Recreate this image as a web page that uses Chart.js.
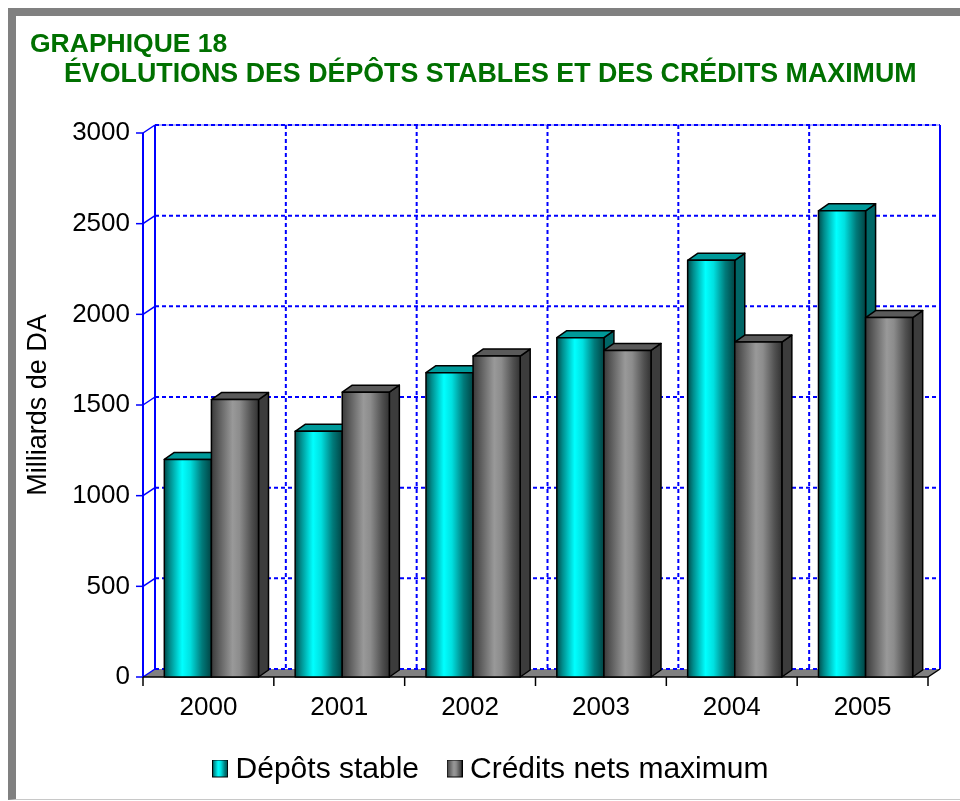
<!DOCTYPE html>
<html>
<head>
<meta charset="utf-8">
<script src="https://cdn.jsdelivr.net/npm/chart.js@4.4.1/dist/chart.umd.min.js"></script>
<style>
  html, body { margin: 0; padding: 0; background: #fff; }
  #wrap { position: relative; width: 960px; height: 801px; overflow: hidden; }
  #frame { position: absolute; left: 8px; top: 8px; right: 0; bottom: 1px;
           border-top: 8px solid #808080; border-left: 8px solid #808080;
           border-bottom: 1px solid #c8c8c8; box-sizing: border-box; }
  .ttl { position: absolute; font-family: "Liberation Sans", Arial, sans-serif;
         font-weight: bold; color: #007000; font-size: 26.5px; white-space: nowrap; }
  canvas { position: absolute; left: 0; top: 0; }
</style>
</head>
<body>
<div id="wrap">
  <canvas id="chart" width="960" height="801"></canvas>
  <div id="frame"></div>
  <div class="ttl" style="left:30px; top:28px;">GRAPHIQUE 18</div>
  <div class="ttl" style="left:64px; top:58px; font-size:26.8px;">ÉVOLUTIONS DES DÉPÔTS STABLES ET DES CRÉDITS MAXIMUM</div>
</div>
<script>
// data (milliards de DA)
const years = ['2000', '2001', '2002', '2003', '2004', '2005'];
const depotsStables = [1200, 1355, 1678, 1871, 2298, 2571];
const creditsNets = [1530, 1571, 1770, 1801, 1847, 1982];
const yTicks = [0, 500, 1000, 1500, 2000, 2500, 3000];

// depth of the back wall and of the bars
const DX = 12, DY = -8;
const BX = 10, BY = -7;

const cyanStops = [[0, '#004c4c'], [0.12, '#008c8c'], [0.38, '#00ffff'], [0.55, '#00e0e0'], [0.8, '#007a7a'], [1, '#004444']];
const grayStops = [[0, '#3a3a3a'], [0.15, '#5a5a5a'], [0.45, '#999999'], [0.6, '#8c8c8c'], [0.85, '#505050'], [1, '#333333']];
const tops = ['#009a9a', '#5a5a5a'];
const sides = ['#006666', '#3c3c3c'];

function legendBox(stops) {
  const c = document.createElement('canvas');
  c.width = 16; c.height = 20;
  const g = c.getContext('2d');
  const gr = g.createLinearGradient(0, 0, 16, 0);
  stops.forEach(s => gr.addColorStop(s[0], s[1]));
  g.fillStyle = gr;
  g.fillRect(0, 0, 16, 18);
  g.strokeStyle = '#000';
  g.lineWidth = 1;
  g.strokeRect(0.5, 0.5, 15, 17);
  g.fillStyle = '#fff';
  g.fillRect(1, 18, 15, 2);
  return c;
}

function line(ctx, x1, y1, x2, y2) {
  ctx.beginPath();
  ctx.moveTo(x1, y1);
  ctx.lineTo(x2, y2);
  ctx.stroke();
}

const walls = {
  id: 'walls',
  afterLayout(chart) {
    // legend sits a little right of centre in the original
    chart.legend.left += 30;
    chart.legend.right += 30;
  },
  beforeDatasetsDraw(chart) {
    const {ctx, chartArea: a, scales: {x, y}} = chart;
    ctx.save();
    // floor
    ctx.fillStyle = '#808080';
    ctx.beginPath();
    ctx.moveTo(a.left, a.bottom);
    ctx.lineTo(a.left + DX, a.bottom + DY);
    ctx.lineTo(a.right + DX, a.bottom + DY);
    ctx.lineTo(a.right, a.bottom);
    ctx.closePath();
    ctx.fill();

    // top edge of back wall
    ctx.strokeStyle = '#b4b4ff';
    ctx.lineWidth = 2;
    line(ctx, a.left + DX, a.top + DY, a.right + DX, a.top + DY);

    // dotted grid on the back wall
    ctx.strokeStyle = '#0000ff';
    ctx.lineWidth = 2;
    ctx.setLineDash([4, 3]);
    yTicks.forEach(v => {
      const py = y.getPixelForValue(v) + DY;
      line(ctx, a.left + DX, py, a.right + DX, py);
    });
    for (let i = 0; i <= years.length; i++) {
      const px = x.getPixelForValue(i - 0.5) + DX;
      line(ctx, px, a.top + DY, px, a.bottom + DY);
    }
    ctx.setLineDash([]);

    // walls
    ctx.lineWidth = 2;
    line(ctx, a.left + DX, a.top + DY, a.left + DX, a.bottom + DY);
    line(ctx, a.right + DX, a.top + DY, a.right + DX, a.bottom + DY);
    line(ctx, a.left, a.top, a.left, a.bottom);
    ctx.lineWidth = 1.5;
    yTicks.forEach(v => {
      const py = y.getPixelForValue(v);
      line(ctx, a.left - 7, py, a.left, py);
      line(ctx, a.left, py, a.left + DX, py + DY);
    });

    // front edge of the floor and category ticks
    ctx.strokeStyle = '#000';
    ctx.lineWidth = 1.5;
    line(ctx, a.left, a.bottom, a.right, a.bottom);
    line(ctx, a.right, a.bottom, a.right + DX, a.bottom + DY);
    for (let i = 0; i <= years.length; i++) {
      const px = x.getPixelForValue(i - 0.5);
      line(ctx, px, a.bottom, px, a.bottom + 9);
    }
    ctx.restore();
  },
  afterDatasetsDraw(chart) {
    const {ctx} = chart;
    ctx.save();
    ctx.strokeStyle = '#000';
    ctx.lineWidth = 1.5;
    ctx.lineJoin = 'round';
    for (let i = 0; i < years.length; i++) {
      chart.data.datasets.forEach((ds, d) => {
        const el = chart.getDatasetMeta(d).data[i];
        const p = el.getProps(['x', 'y', 'base', 'width'], true);
        const x0 = p.x - p.width / 2 + 3, x1 = p.x + p.width / 2 + 3;
        const yt = p.y, yb = p.base;
        // side
        ctx.fillStyle = sides[d];
        ctx.beginPath();
        ctx.moveTo(x1, yt);
        ctx.lineTo(x1 + BX, yt + BY);
        ctx.lineTo(x1 + BX, yb + BY);
        ctx.lineTo(x1, yb);
        ctx.closePath();
        ctx.fill(); ctx.stroke();
        // top
        ctx.fillStyle = tops[d];
        ctx.beginPath();
        ctx.moveTo(x0, yt);
        ctx.lineTo(x0 + BX, yt + BY);
        ctx.lineTo(x1 + BX, yt + BY);
        ctx.lineTo(x1, yt);
        ctx.closePath();
        ctx.fill(); ctx.stroke();
        // front
        const gr = ctx.createLinearGradient(x0, 0, x1, 0);
        (d === 0 ? cyanStops : grayStops).forEach(s => gr.addColorStop(s[0], s[1]));
        ctx.fillStyle = gr;
        ctx.fillRect(x0, yt, x1 - x0, yb - yt);
        ctx.strokeRect(x0, yt, x1 - x0, yb - yt);
      });
    }
    ctx.restore();
  }
};

const boxes = [legendBox(cyanStops), legendBox(grayStops)];

new Chart(document.getElementById('chart'), {
  type: 'bar',
  data: {
    labels: years,
    datasets: [
      {label: 'Dépôts stable', data: depotsStables, backgroundColor: 'rgba(0,0,0,0)'},
      {label: 'Crédits nets maximum', data: creditsNets, backgroundColor: 'rgba(0,0,0,0)'}
    ]
  },
  options: {
    responsive: false,
    animation: false,
    events: [],
    layout: {padding: {left: 0, right: 32, top: 133, bottom: 6.5}},
    datasets: {bar: {categoryPercentage: 0.72, barPercentage: 1}},
    scales: {
      x: {
        grid: {display: false},
        border: {display: false},
        ticks: {color: '#000', padding: 7, font: {family: 'Liberation Sans', size: 26}},
        afterFit: s => { s.height = 67.5; }
      },
      y: {
        min: 0,
        max: 3000,
        grid: {display: false},
        border: {display: false},
        ticks: {stepSize: 500, color: '#000', padding: 5, font: {family: 'Liberation Sans', size: 26},
                callback: v => String(v)},
        title: {display: true, text: 'Milliards de DA', color: '#000', padding: {top: 22, bottom: 0},
                font: {family: 'Liberation Sans', size: 27}},
        afterFit: s => { s.width = 143; }
      }
    },
    plugins: {
      tooltip: {enabled: false},
      legend: {
        position: 'bottom',
        labels: {
          color: '#000',
          font: {family: 'Liberation Sans', size: 30},
          padding: 10,
          usePointStyle: true,
          pointStyleWidth: 1,
          generateLabels: chart => chart.data.datasets.map((ds, i) => ({
            text: i === 0 ? ds.label + '   ' : ds.label, pointStyle: boxes[i], datasetIndex: i,
            fillStyle: i === 0 ? '#00ffff' : '#8c8c8c', strokeStyle: '#000', lineWidth: 0
          }))
        }
      }
    }
  },
  plugins: [walls]
});
</script>
</body>
</html>
